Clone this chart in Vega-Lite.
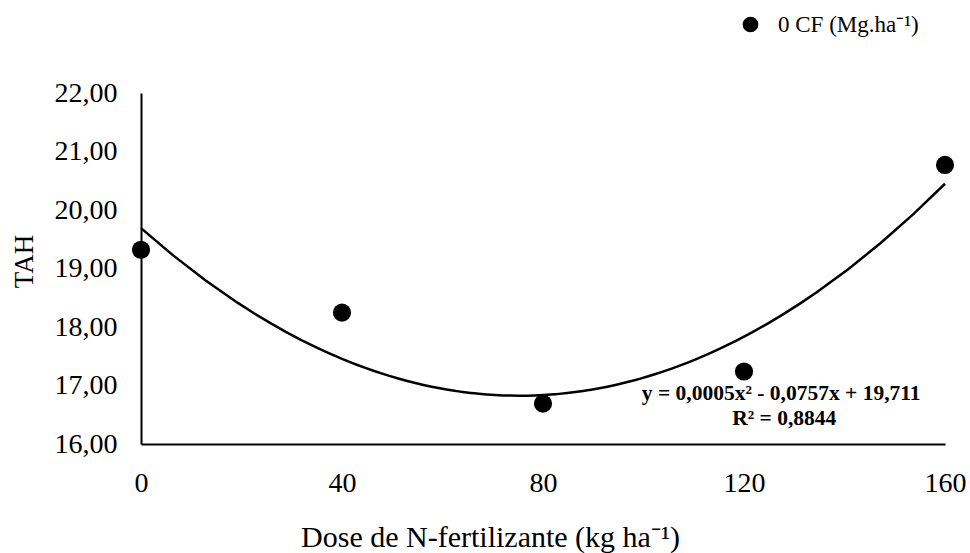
{
  "$schema": "https://vega.github.io/schema/vega-lite/v6.json",
  "width": 804,
  "height": 351,
  "autosize": {"type": "none"},
  "padding": {"left": 141, "top": 93, "right": 25, "bottom": 109},
  "background": "white",
  "config": {"view": {"stroke": null}, "font": "Liberation Serif"},
  "data": {
    "values": [
      {"dose": 0, "tah": 19.32, "serie": "0 CF (Mg.ha⁻¹)"},
      {"dose": 40, "tah": 18.245, "serie": "0 CF (Mg.ha⁻¹)"},
      {"dose": 80, "tah": 16.69, "serie": "0 CF (Mg.ha⁻¹)"},
      {"dose": 120, "tah": 17.24, "serie": "0 CF (Mg.ha⁻¹)"},
      {"dose": 160, "tah": 20.77, "serie": "0 CF (Mg.ha⁻¹)"}
    ]
  },
  "encoding": {
    "x": {
      "field": "dose",
      "type": "quantitative",
      "scale": {"domain": [0, 160], "nice": false, "zero": false},
      "axis": {
        "values": [0, 40, 80, 120, 160],
        "grid": false,
        "ticks": false,
        "tickSize": 0,
        "domainColor": "black",
        "domainWidth": 2,
        "labelFontSize": 28,
        "labelColor": "black",
        "labelPadding": 25,
        "labelFlush": false,
        "labelOverlap": false,
        "labelFont": "Liberation Serif",
        "title": "Dose de N-fertilizante  (kg ha⁻¹)",
        "titleFont": "Liberation Serif",
        "titleFontSize": 30,
        "titleFontWeight": "normal",
        "titleColor": "black",
        "titleX": 349,
        "titleY": 102,
        "titleAlign": "center",
        "titleBaseline": "alphabetic"
      }
    },
    "y": {
      "field": "tah",
      "type": "quantitative",
      "scale": {"domain": [16, 22], "nice": false, "zero": false},
      "axis": {
        "values": [16, 17, 18, 19, 20, 21, 22],
        "labelExpr": "replace(format(datum.value, '.2f'), '.', ',')",
        "grid": false,
        "ticks": false,
        "tickSize": 0,
        "domainColor": "black",
        "domainWidth": 2,
        "labelFontSize": 28,
        "labelColor": "black",
        "labelPadding": 24,
        "labelOverlap": false,
        "labelFont": "Liberation Serif",
        "title": "TAH",
        "titleFont": "Liberation Serif",
        "titleFontSize": 27,
        "titleFontWeight": "normal",
        "titleColor": "#000000",
        "titleX": -117,
        "titleY": 168,
        "titleAngle": 270,
        "titleAlign": "center",
        "titleBaseline": "middle"
      }
    }
  },
  "layer": [
    {
      "transform": [
        {"regression": "tah", "on": "dose", "method": "poly", "order": 2, "extent": [0, 160]}
      ],
      "mark": {"type": "line", "color": "black", "strokeWidth": 2.5},
      "encoding": {}
    },
    {
      "mark": {"type": "point", "filled": true, "opacity": 1, "size": 330},
      "encoding": {
        "color": {
          "field": "serie",
          "type": "nominal",
          "scale": {"range": ["black"]},
          "legend": {
            "title": null,
            "orient": "none",
            "legendX": 598,
            "legendY": -80,
            "padding": 0,
            "labelFontSize": 23,
            "labelFont": "Liberation Serif",
            "labelColor": "black",
            "labelOffset": 16,
            "symbolSize": 200,
            "symbolType": "circle",
            "symbolFillColor": "black",
            "symbolStrokeColor": "black"
          }
        }
      }
    },
    {
      "data": {
        "values": [
          {"dose": 127.4, "tah": 16.75, "txt": "y = 0,0005x² - 0,0757x + 19,711"},
          {"dose": 128, "tah": 16.33, "txt": "R² = 0,8844"}
        ]
      },
      "mark": {
        "type": "text",
        "fontWeight": "bold",
        "fontSize": 21.5,
        "font": "Liberation Serif",
        "align": "center",
        "baseline": "alphabetic",
        "color": "black"
      },
      "encoding": {"text": {"field": "txt"}}
    }
  ]
}
